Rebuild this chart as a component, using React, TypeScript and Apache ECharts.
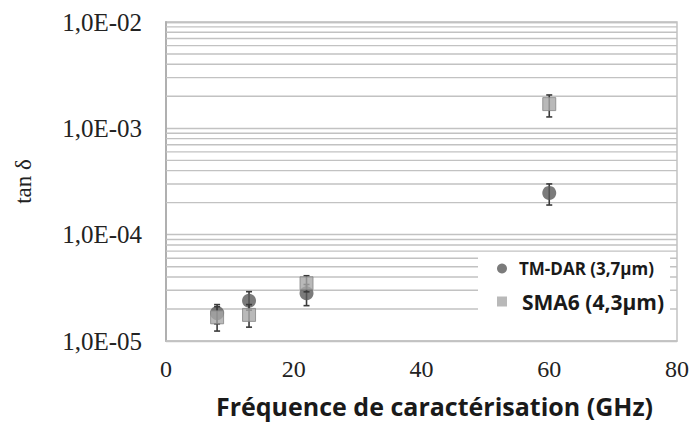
import React, { useEffect, useRef } from "react";
import * as echarts from "echarts";

// Frequency (GHz)
const frequencies = [8, 13, 22, 60];
// TM-DAR (3,7µm) tan δ
const tmDarValues = [1.83e-5, 2.39e-5, 2.81e-5, 2.47e-4];
const tmDarLow = [1.45e-5, 1.95e-5, 2.15e-5, 1.9e-4];
const tmDarHigh = [2.2e-5, 2.91e-5, 3.4e-5, 3.0e-4];
// SMA6 (4,3µm) tan δ
const smaValues = [1.67e-5, 1.76e-5, 3.49e-5, 1.69e-3];
const smaLow = [1.24e-5, 1.35e-5, 2.9e-5, 1.28e-3];
const smaHigh = [2.1e-5, 2.2e-5, 4.11e-5, 2.06e-3];

const seriesNames = ["TM-DAR (3,7µm)", "SMA6 (4,3µm)"];
const xTicks = [0, 20, 40, 60, 80];
const decades = [1e-5, 1e-4, 1e-3];
const minorMultipliers = [2, 3, 4, 5, 6, 7, 8, 9];

const gridColor = "#c2c2c2";

function fmtSci(v: number): string {
  const e = Math.round(Math.log10(v));
  const abs = Math.abs(e);
  return "1,0E" + (e < 0 ? "-" : "+") + (abs < 10 ? "0" : "") + abs;
}

export default function App() {
  const ref = useRef<HTMLDivElement>(null);
  useEffect(() => {
    document.body.style.margin = "0";
    if (!ref.current) return;
    const chart = echarts.init(ref.current, undefined, { renderer: "svg" });

    const minorValues: number[][] = [];
    decades.forEach((d) =>
      minorMultipliers.forEach((m) => minorValues.push([0, d * m]))
    );

    const errData = (lows: number[], highs: number[]) =>
      frequencies.map((f, i) => [f, lows[i], highs[i]]);

    const errRender = (params: any, api: any) => {
      const x = api.value(0);
      const lo = api.coord([x, api.value(1)]);
      const hi = api.coord([x, api.value(2)]);
      const cap = 3;
      const style = { stroke: "#3a3a3a", lineWidth: 1.6 };
      return {
        type: "group",
        children: [
          { type: "line", shape: { x1: lo[0], y1: lo[1], x2: hi[0], y2: hi[1] }, style },
          { type: "line", shape: { x1: lo[0] - cap, y1: lo[1], x2: lo[0] + cap, y2: lo[1] }, style },
          { type: "line", shape: { x1: hi[0] - cap, y1: hi[1], x2: hi[0] + cap, y2: hi[1] }, style },
        ],
      };
    };

    const minorRender = (params: any, api: any) => {
      const v = api.value(1);
      const a = api.coord([0, v]);
      const b = api.coord([80, v]);
      return {
        type: "line",
        shape: { x1: a[0], y1: a[1], x2: b[0], y2: b[1] },
        style: { stroke: gridColor, lineWidth: 1.4 },
      };
    };

    chart.setOption({
      animation: false,
      backgroundColor: "#ffffff",
      grid: {
        left: 166,
        right: 14,
        top: 22,
        bottom: 83,
        show: true,
        borderColor: gridColor,
        borderWidth: 1.5,
      },
      legend: {
        orient: "vertical",
        left: 478,
        top: 252,
        z: 10,
        backgroundColor: "#ffffff",
        padding: [8, 6, 10, 19],
        itemWidth: 10,
        itemHeight: 10,
        itemGap: 14,
        textStyle: { fontFamily: "Open Sans", fontWeight: "bold", color: "#1a1a1a" },
        data: [
          {
            name: seriesNames[0],
            icon: "circle",
            itemStyle: { color: "#5a5a5a", borderWidth: 0 },
            textStyle: { fontSize: 17, padding: [0, 0, 0, 7] },
          },
          {
            name: seriesNames[1],
            icon: "rect",
            itemStyle: { color: "#a8a8a8", borderWidth: 0 },
            textStyle: { fontSize: 21, padding: [0, 0, 0, 10] },
          },
        ],
      },
      xAxis: {
        type: "value",
        min: 0,
        max: 80,
        interval: 20,
        name: "Fréquence de caractérisation (GHz)",
        nameLocation: "middle",
        nameGap: 52,
        nameTextStyle: {
          fontFamily: "Open Sans",
          fontWeight: "bold",
          fontSize: 25,
          color: "#1a1a1a",
          padding: [0, 0, 0, 26],
        },
        axisLine: { show: true, lineStyle: { color: gridColor, width: 1.5 } },
        axisTick: { show: false },
        splitLine: { show: false },
        axisLabel: {
          margin: 16,
          fontFamily: "Liberation Serif",
          fontSize: 24,
          color: "#222",
          formatter: (v: number) => (xTicks.includes(v) ? String(v) : ""),
        },
      },
      yAxis: {
        type: "log",
        logBase: 10,
        min: 1e-5,
        max: 1e-2,
        name: "tan δ",
        nameLocation: "middle",
        nameGap: 131,
        nameRotate: 90,
        nameTextStyle: { fontFamily: "Liberation Serif", fontSize: 23, color: "#222" },
        axisLine: { show: true, lineStyle: { color: "#b0b0b0", width: 2 } },
        axisTick: { show: false },
        splitLine: { show: true, lineStyle: { color: gridColor, width: 1.4 } },
        axisLabel: {
          margin: 24,
          fontFamily: "Liberation Serif",
          fontSize: 25,
          color: "#222",
          formatter: (v: number) => fmtSci(v),
        },
      },
      series: [
        {
          name: "minorGrid",
          type: "custom",
          renderItem: minorRender,
          data: minorValues,
          encode: { x: 0, y: 1 },
          z: 1,
          silent: true,
        },
        {
          name: "errTm",
          type: "custom",
          renderItem: errRender,
          data: errData(tmDarLow, tmDarHigh),
          encode: { x: 0, y: [1, 2] },
          z: 3,
          silent: true,
        },
        {
          name: seriesNames[0],
          type: "scatter",
          symbol: "circle",
          symbolSize: 14,
          itemStyle: { color: "#5a5a5a" },
          data: frequencies.map((f, i) => [f, tmDarValues[i]]),
          z: 4,
        },
        {
          name: "errSma",
          type: "custom",
          renderItem: errRender,
          data: errData(smaLow, smaHigh),
          encode: { x: 0, y: [1, 2] },
          z: 5,
          silent: true,
        },
        {
          name: seriesNames[1],
          type: "scatter",
          symbol: "rect",
          symbolSize: 13,
          itemStyle: { color: "#a8a8a8", borderColor: "#858585", borderWidth: 1 },
          data: frequencies.map((f, i) => [f, smaValues[i]]),
          z: 6,
        },
      ],
    });
    return () => chart.dispose();
  }, []);
  return <div ref={ref} style={{ width: 692, height: 424 }} />;
}
